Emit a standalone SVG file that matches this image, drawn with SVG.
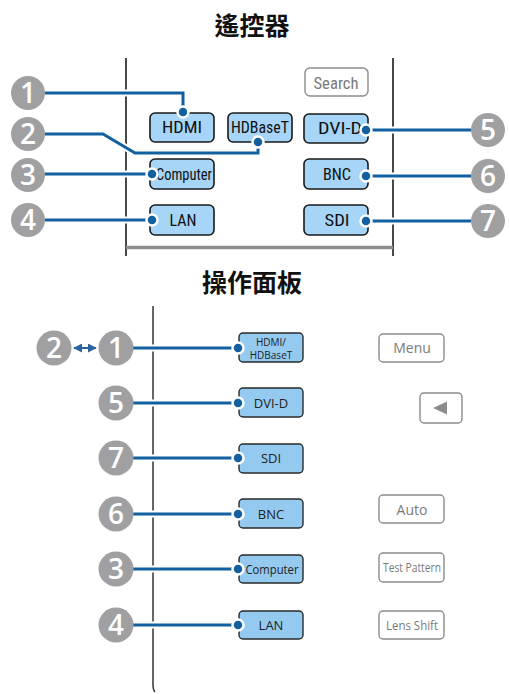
<svg xmlns="http://www.w3.org/2000/svg" width="509" height="694" viewBox="0 0 509 694">
<style>
.title{font-family:"Noto Sans CJK TC","Noto Sans CJK SC",sans-serif;font-weight:bold;font-size:25px;fill:#111;text-anchor:middle}
.rb{fill:#a6d5f7;stroke:#1a1a1a;stroke-width:1.6}
.pb{fill:#94caf0;stroke:#2a2a2a;stroke-width:1.4}
.gb{fill:#fff;stroke:#8c8c8c;stroke-width:1.4}
.rt{font-family:"Liberation Sans Narrow","Roboto Condensed","Liberation Sans",sans-serif;font-size:17px;fill:#111;text-anchor:middle}
.pt{font-family:"Open Sans","Noto Sans",sans-serif;font-size:13px;fill:#222;text-anchor:middle}
.gt{font-family:"Open Sans","Noto Sans",sans-serif;font-size:14px;fill:#7a7a7a;text-anchor:middle}
.num{fill:#a0a0a3}
.nt{font-family:"Open Sans","Noto Sans",sans-serif;font-size:28px;font-weight:600;fill:#fff;text-anchor:middle}
.halo{fill:none;stroke:#fff;stroke-width:7}
.wire{fill:none;stroke:#12609f;stroke-width:3}
.dot{fill:#12609f;stroke:#fff;stroke-width:2.5}
.frame{fill:none;stroke:#1a1a1a;stroke-width:1.6}
</style>
<defs>
<marker id="ah" viewBox="0 0 10 10" refX="9" refY="5" markerWidth="4.5" markerHeight="4.5" orient="auto-start-reverse"><path d="M0,0 L10,5 L0,10 z" fill="#2a65a0"/></marker>
</defs>

<text class="title" x="252" y="35">遙控器</text>
<text class="title" x="252" y="292">操作面板</text>

<g id="remote-frame">
<line class="frame" x1="126" y1="58" x2="126" y2="256"/>
<line class="frame" x1="393" y1="58" x2="393" y2="256"/>
<line x1="126" y1="247.5" x2="393" y2="247.5" stroke="#8f8f8f" stroke-width="3.5"/>
</g>
<g id="panel-frame">
<path d="M153,306 V684 Q153,690 155,692" fill="none" stroke="#3b3232" stroke-width="1.5"/>
</g>

<g id="connectors">
<path class="halo" d="M45,93 H183 V112"/>
<path class="halo" d="M45,134 H103 L135,153 H258 V142"/>
<path class="halo" d="M45,174 H152"/>
<path class="halo" d="M45,220 H152"/>
<path class="halo" d="M366,130 H471"/>
<path class="halo" d="M366,176 H471"/>
<path class="halo" d="M366,221 H471"/>
<path class="halo" d="M132,348 H237"/>
<path class="halo" d="M132,403 H237"/>
<path class="halo" d="M132,458 H237"/>
<path class="halo" d="M132,514 H237"/>
<path class="halo" d="M132,569 H237"/>
<path class="halo" d="M132,625 H237"/>
<path class="wire" d="M45,93 H183 V112"/>
<path class="wire" d="M45,134 H103 L135,153 H258 V142"/>
<path class="wire" d="M45,174 H152"/>
<path class="wire" d="M45,220 H152"/>
<path class="wire" d="M366,130 H471"/>
<path class="wire" d="M366,176 H471"/>
<path class="wire" d="M366,221 H471"/>
<path class="wire" d="M132,348 H237"/>
<path class="wire" d="M132,403 H237"/>
<path class="wire" d="M132,458 H237"/>
<path class="wire" d="M132,514 H237"/>
<path class="wire" d="M132,569 H237"/>
<path class="wire" d="M132,625 H237"/>
<line x1="74" y1="348" x2="96" y2="348" stroke="#2a65a0" stroke-width="2" marker-start="url(#ah)" marker-end="url(#ah)"/>
</g>

<g id="remote-buttons">
<g id="r-hdmi"><rect class="rb" x="150" y="113" width="64" height="29" rx="5"/><text class="rt" x="182" y="133" textLength="40" lengthAdjust="spacingAndGlyphs">HDMI</text></g>
<g id="r-hdbaset"><rect class="rb" x="228" y="113" width="64" height="29" rx="5"/><text class="rt" x="260" y="133" textLength="58" lengthAdjust="spacingAndGlyphs">HDBaseT</text></g>
<g id="r-search"><rect class="gb" x="305" y="68" width="63" height="28" rx="5"/><text class="rt" x="336" y="89" textLength="45" lengthAdjust="spacingAndGlyphs" style="fill:#7a7a7a">Search</text></g>
<g id="r-dvid"><rect class="rb" x="304" y="114" width="64" height="29" rx="5"/><text class="rt" x="340" y="134" textLength="44" lengthAdjust="spacingAndGlyphs">DVI-D</text></g>
<g id="r-computer"><rect class="rb" x="150" y="159" width="64" height="30" rx="5"/><text class="rt" x="184" y="180" textLength="56" lengthAdjust="spacingAndGlyphs">Computer</text></g>
<g id="r-bnc"><rect class="rb" x="304" y="159" width="64" height="30" rx="5"/><text class="rt" x="337" y="180" textLength="28" lengthAdjust="spacingAndGlyphs">BNC</text></g>
<g id="r-lan"><rect class="rb" x="150" y="205" width="64" height="30" rx="5"/><text class="rt" x="183" y="226" textLength="27" lengthAdjust="spacingAndGlyphs">LAN</text></g>
<g id="r-sdi"><rect class="rb" x="304" y="205" width="64" height="30" rx="5"/><text class="rt" x="337" y="226" textLength="25" lengthAdjust="spacingAndGlyphs">SDI</text></g>
</g>

<g id="remote-dots">
<circle class="dot" cx="183" cy="112" r="5.5"/>
<circle class="dot" cx="258" cy="142" r="5.5"/>
<circle class="dot" cx="152" cy="174" r="5.5"/>
<circle class="dot" cx="152" cy="220" r="5.5"/>
<circle class="dot" cx="366" cy="130" r="5.5"/>
<circle class="dot" cx="366" cy="176" r="5.5"/>
<circle class="dot" cx="366" cy="221" r="5.5"/>
</g>

<g id="panel-buttons">
<g id="p-hdmi"><rect class="pb" x="239" y="333" width="64" height="29" rx="4"/><text class="pt" x="271" y="346" style="font-size:10px">HDMI/</text><text class="pt" x="271" y="358.5" style="font-size:10px">HDBaseT</text></g>
<g id="p-dvid"><rect class="pb" x="239" y="388" width="64" height="29" rx="4"/><text class="pt" x="271" y="408">DVI-D</text></g>
<g id="p-sdi"><rect class="pb" x="239" y="444" width="64" height="29" rx="4"/><text class="pt" x="271" y="463">SDI</text></g>
<g id="p-bnc"><rect class="pb" x="239" y="499" width="64" height="29" rx="4"/><text class="pt" x="271" y="519">BNC</text></g>
<g id="p-computer"><rect class="pb" x="239" y="555" width="64" height="28" rx="4"/><text class="pt" x="272" y="574" textLength="53" lengthAdjust="spacingAndGlyphs">Computer</text></g>
<g id="p-lan"><rect class="pb" x="239" y="611" width="64" height="28" rx="4"/><text class="pt" x="271" y="630">LAN</text></g>
<g id="p-menu"><rect class="gb" x="379" y="334" width="65" height="28" rx="4"/><text class="gt" x="412" y="353">Menu</text></g>
<g id="p-left"><rect class="gb" x="420" y="393" width="42" height="30" rx="4"/><path d="M433,408 L447,401.5 V414.5 Z" fill="#8c8c8c"/></g>
<g id="p-auto"><rect class="gb" x="379" y="495" width="65" height="28" rx="4"/><text class="gt" x="412" y="515">Auto</text></g>
<g id="p-test"><rect class="gb" x="379" y="553" width="65" height="29" rx="4"/><text class="gt" x="412" y="572" style="font-size:12.5px" textLength="58" lengthAdjust="spacingAndGlyphs">Test Pattern</text></g>
<g id="p-lens"><rect class="gb" x="379" y="611" width="65" height="28" rx="4"/><text class="gt" x="412" y="630" style="font-size:13px" textLength="52" lengthAdjust="spacingAndGlyphs">Lens Shift</text></g>
</g>

<g id="panel-dots">
<circle class="dot" cx="238" cy="348" r="5.5"/>
<circle class="dot" cx="238" cy="403" r="5.5"/>
<circle class="dot" cx="238" cy="458" r="5.5"/>
<circle class="dot" cx="238" cy="514" r="5.5"/>
<circle class="dot" cx="238" cy="569" r="5.5"/>
<circle class="dot" cx="238" cy="625" r="5.5"/>
</g>

<g id="remote-numbers">
<g id="rn1"><circle class="num" cx="28" cy="93" r="17"/><text class="nt" x="28" y="103">1</text></g>
<g id="rn2"><circle class="num" cx="28" cy="134" r="17"/><text class="nt" x="28" y="144">2</text></g>
<g id="rn3"><circle class="num" cx="28" cy="175" r="17"/><text class="nt" x="28" y="185">3</text></g>
<g id="rn4"><circle class="num" cx="28" cy="220" r="17"/><text class="nt" x="28" y="230">4</text></g>
<g id="rn5"><circle class="num" cx="488" cy="130" r="17"/><text class="nt" x="488" y="140">5</text></g>
<g id="rn6"><circle class="num" cx="488" cy="176" r="17"/><text class="nt" x="488" y="186">6</text></g>
<g id="rn7"><circle class="num" cx="488" cy="221" r="17"/><text class="nt" x="488" y="231">7</text></g>
</g>

<g id="panel-numbers">
<g id="pn2"><circle class="num" cx="54" cy="348" r="17.5"/><text class="nt" x="54" y="358">2</text></g>
<g id="pn1"><circle class="num" cx="116" cy="348" r="17.5"/><text class="nt" x="116" y="358">1</text></g>
<g id="pn5"><circle class="num" cx="116" cy="403" r="17.5"/><text class="nt" x="116" y="413">5</text></g>
<g id="pn7"><circle class="num" cx="116" cy="458" r="17.5"/><text class="nt" x="116" y="468">7</text></g>
<g id="pn6"><circle class="num" cx="116" cy="514" r="17.5"/><text class="nt" x="116" y="524">6</text></g>
<g id="pn3"><circle class="num" cx="116" cy="569" r="17.5"/><text class="nt" x="116" y="579">3</text></g>
<g id="pn4"><circle class="num" cx="116" cy="625" r="17.5"/><text class="nt" x="116" y="635">4</text></g>
</g>
</svg>
